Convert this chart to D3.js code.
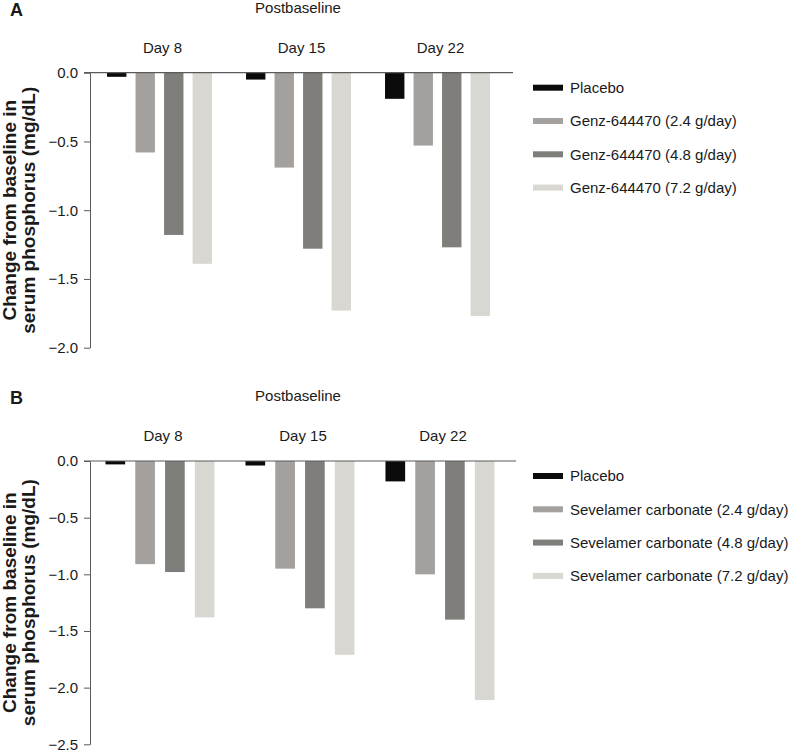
<html>
<head>
<meta charset="utf-8">
<script src="https://d3js.org/d3.v7.min.js"></script>
<style>
    body { margin: 0; background: #fff; }
    text { font-family: "Liberation Sans", Arial, sans-serif; fill: #1a1a1a; }
    .axis path, .axis line { stroke: #5a5a5a; }
    .axis text { font-size: 15px; fill: #1a1a1a; }
</style>
</head>
<body>
<svg width="790" height="750"></svg>
<script>
    // groups along the x axis
    var days = ["Day 8", "Day 15", "Day 22"];

    // panel A series and values (one array per series, across days)
    var seriesA = ["Placebo", "Genz-644470 (2.4 g/day)", "Genz-644470 (4.8 g/day)", "Genz-644470 (7.2 g/day)"];
    var valuesA = [
        [-0.03, -0.05, -0.19],
        [-0.58, -0.69, -0.53],
        [-1.18, -1.28, -1.27],
        [-1.39, -1.73, -1.77]
    ];
    var ticksA = [0, -0.5, -1.0, -1.5, -2.0];

    // panel B
    var seriesB = ["Placebo", "Sevelamer carbonate (2.4 g/day)", "Sevelamer carbonate (4.8 g/day)", "Sevelamer carbonate (7.2 g/day)"];
    var valuesB = [
        [-0.03, -0.04, -0.18],
        [-0.91, -0.95, -1.00],
        [-0.98, -1.30, -1.40],
        [-1.38, -1.71, -2.11]
    ];
    var ticksB = [0, -0.5, -1.0, -1.5, -2.0, -2.5];

    var colors = ["#0b0b0b", "#a3a09e", "#7f7e7b", "#d9d7d1"];

    var svg = d3.select("svg");

    function drawPanel(letter, series, values, ticks, top, bottom, right, xpadIn, barPad) {
        var g = svg.append("g");

        var y = d3.scaleLinear().domain([0, d3.min(ticks)]).range([top, bottom]);
        var x0 = d3.scaleBand().domain(days).range([90, right])
            .paddingInner(xpadIn).paddingOuter(xpadIn / 2);
        var x1 = d3.scaleBand().domain(d3.range(series.length))
            .range([0, x0.bandwidth()]).paddingInner(barPad);

        // bars
        series.forEach(function (s, si) {
            g.selectAll(null).data(values[si]).enter().append("rect")
                .attr("x", function (d, i) { return x0(days[i]) + x1(si); })
                .attr("y", y(0))
                .attr("width", x1.bandwidth())
                .attr("height", function (d) { return y(d) - y(0); })
                .attr("fill", colors[si]);
        });

        // y axis
        g.append("g")
            .attr("class", "axis")
            .attr("transform", "translate(90,0)")
            .call(d3.axisLeft(y).tickValues(ticks).tickSize(6).tickSizeOuter(0)
                .tickPadding(6).tickFormat(d3.format(".1f")));

        // zero line
        g.append("line")
            .attr("x1", 84).attr("x2", right + 6)
            .attr("y1", y(0)).attr("y2", y(0))
            .attr("stroke", "#5a5a5a").attr("stroke-width", 1.2);

        // day labels
        g.selectAll(null).data(days).enter().append("text")
            .attr("x", function (d) { return x0(d) + x0.bandwidth() / 2 + 3; })
            .attr("y", y(0) - 20)
            .attr("text-anchor", "middle")
            .style("font-size", "15px")
            .text(function (d) { return d; });

        g.append("text")
            .attr("x", 298).attr("y", y(0) - 60)
            .attr("text-anchor", "middle")
            .style("font-size", "15px")
            .text("Postbaseline");

        g.append("text")
            .attr("x", 10).attr("y", y(0) - 57)
            .style("font-size", "18px").style("font-weight", "bold")
            .text(letter);

        // y title
        var mid = (top + bottom) / 2;
        var title = g.append("text")
            .attr("transform", "translate(16," + mid + ") rotate(-90)")
            .attr("text-anchor", "middle")
            .style("font-size", "19px").style("font-weight", "bold");
        title.append("tspan").attr("x", 0).attr("y", 0).text("Change from baseline in");
        title.append("tspan").attr("x", 0).attr("y", 19).text("serum phosphorus (mg/dL)");

        // legend
        var leg = g.selectAll(null).data(series).enter().append("g")
            .attr("transform", function (d, i) { return "translate(533," + (y(0) + 15 + i * 33.3) + ")"; });
        leg.append("rect")
            .attr("x", 0).attr("y", -3).attr("width", 30).attr("height", 6)
            .attr("fill", function (d, i) { return colors[i]; });
        leg.append("text")
            .attr("x", 37).attr("dy", "0.35em")
            .style("font-size", "15px")
            .text(function (d) { return d; });
    }

    drawPanel("A", seriesA, valuesA, ticksA, 72.7, 347.7, 507, 0.245, 0.32);
    drawPanel("B", seriesB, valuesB, ticksB, 461, 744.3, 510, 0.221, 0.34);
</script>
</body>
</html>
